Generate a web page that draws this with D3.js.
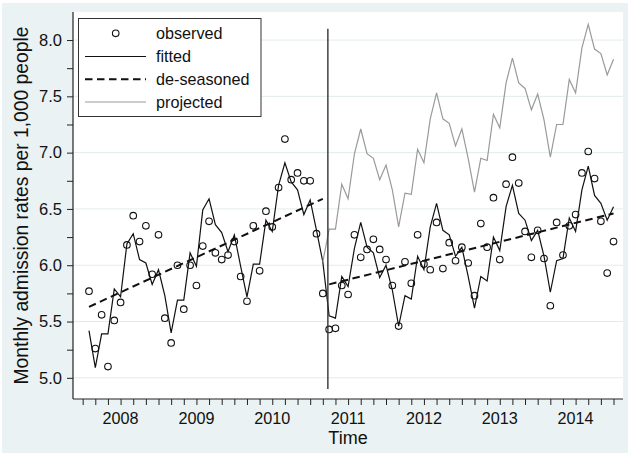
<!DOCTYPE html>
<html><head><meta charset="utf-8">
<script src="https://cdn.jsdelivr.net/npm/d3@7/dist/d3.min.js"></script>
<style>
html,body{margin:0;padding:0;background:#fff;}
svg{display:block;font-family:"Liberation Sans",Arial,sans-serif;}
</style>
</head><body>
<svg id="chart" width="636" height="456"></svg>
<script>
// Monthly series, month index 0 = 2007m8 (Aug 2007) ... 83 = 2014m7
const firstMonth = "2007m8";
const observed = [5.77,5.26,5.56,5.10,5.51,5.67,6.18,6.44,6.21,6.35,5.92,6.27,
  5.53,5.31,6.00,5.61,6.00,5.82,6.17,6.39,6.11,6.05,6.09,6.21,
  5.90,5.68,6.35,5.95,6.48,6.34,6.69,7.12,6.76,6.82,6.75,6.75,
  6.28,5.75,5.43,5.44,5.82,5.74,6.27,6.07,6.14,6.23,6.14,6.05,
  5.82,5.46,6.03,5.84,6.27,6.01,5.96,6.38,5.97,6.20,6.04,6.16,
  6.02,5.73,6.37,6.16,6.60,6.05,6.72,6.96,6.73,6.30,6.07,6.31,
  6.06,5.64,6.38,6.09,6.35,6.45,6.82,7.01,6.77,6.39,5.93,6.21];
const fitted = [5.42,5.09,5.39,5.39,5.79,5.72,6.19,6.28,6.05,6.02,5.83,5.96,
  5.73,5.40,5.69,5.69,6.11,5.99,6.49,6.59,6.36,6.29,6.12,6.27,
  5.99,5.72,6.01,6.01,6.40,6.30,6.71,6.91,6.74,6.67,6.45,6.58,
  6.31,6.03,5.55,5.53,5.90,5.81,6.15,6.38,6.16,6.11,5.89,6.00,
  5.78,5.46,5.73,5.70,6.08,5.96,6.34,6.55,6.31,6.27,6.08,6.16,
  5.90,5.62,5.90,5.86,6.25,6.13,6.52,6.71,6.46,6.40,6.22,6.31,
  6.08,5.76,6.04,6.06,6.42,6.30,6.67,6.88,6.62,6.55,6.40,6.52];
const projectedStart = 37;
const projected = [6.03,6.32,6.32,6.72,6.59,6.99,7.21,6.99,6.95,6.76,6.89,
  6.67,6.34,6.64,6.63,7.03,6.91,7.30,7.53,7.30,7.26,7.06,7.21,
  6.95,6.65,6.95,6.93,7.34,7.22,7.62,7.84,7.62,7.57,7.38,7.52,
  7.29,6.96,7.25,7.25,7.65,7.53,7.93,8.14,7.92,7.88,7.69,7.83];
const deseasonedPreMonths = [0, 37];
const deseasonedPreValues = [5.63, 6.59];
const deseasonedPostMonths = [38, 83];
const deseasonedPostValues = [5.83, 6.46];
const interventionMonth = 37.8;
const interventionRange = [4.90, 8.10];
const yTicks = [5.0,5.5,6.0,6.5,7.0,7.5,8.0];
const yMinorTicks = [5.25,5.75,6.25,6.75,7.25,7.75];
const yearLabels = ["2008","2009","2010","2011","2012","2013","2014"];
const yearLabelMonths = [5,17,29,41,53,65,77];
const xTickMonths = d3.range(-1, 84, 2);
const legendLabels = ["observed","fitted","de-seasoned","projected"];
const yTitle = "Monthly admission rates per 1,000 people";
const xTitle = "Time";

const svg = d3.select("#chart");
const W = 636, H = 456;
const plot = {left:73, right:623, top:12, bottom:399};

svg.append("rect").attr("width",W).attr("height",H).attr("fill","#fff");
svg.append("rect").attr("x",2).attr("y",3).attr("width",626).attr("height",450).attr("fill","#eaf2f3");
svg.append("rect").attr("x",plot.left).attr("y",plot.top)
  .attr("width",plot.right-plot.left).attr("height",plot.bottom-plot.top).attr("fill","#fff");

const x = d3.scaleLinear().domain([-2.53, 84.5]).range([plot.left, plot.right]);
const y = d3.scaleLinear().domain([4.812, 8.249]).range([plot.bottom, plot.top]);

// gridlines
svg.append("g").selectAll("line").data(yTicks).join("line")
  .attr("x1",plot.left).attr("x2",plot.right)
  .attr("y1",d=>y(d)).attr("y2",d=>y(d))
  .attr("stroke","#e2ebec").attr("stroke-width",1);

// y axis
const yAxis = d3.axisLeft(y).tickValues(yTicks).tickFormat(d3.format(".1f")).tickSize(6).tickPadding(5);
const gy = svg.append("g").attr("transform",`translate(${plot.left},0)`).call(yAxis);
gy.select(".domain").remove();
gy.selectAll(".tick line").attr("stroke","#222");
gy.selectAll(".tick text").attr("font-size","16.5px").attr("fill","#111")
  .attr("font-family","'Liberation Sans',Arial,sans-serif");
const gyMinor = svg.append("g").attr("transform",`translate(${plot.left},0)`)
  .call(d3.axisLeft(y).tickValues(yMinorTicks).tickFormat("").tickSize(6));
gyMinor.select(".domain").remove();
gyMinor.selectAll(".tick line").attr("stroke","#222");
svg.append("line").attr("x1",plot.left).attr("x2",plot.left).attr("y1",plot.top).attr("y2",plot.bottom)
  .attr("stroke","#222").attr("stroke-width",1.2);

// x axis
const gx = svg.append("g").attr("transform",`translate(0,${plot.bottom})`)
  .call(d3.axisBottom(x).tickValues(xTickMonths).tickFormat("").tickSize(6));
gx.select(".domain").remove();
gx.selectAll(".tick line").attr("stroke","#222");
svg.append("line").attr("x1",plot.left).attr("x2",plot.right).attr("y1",plot.bottom).attr("y2",plot.bottom)
  .attr("stroke","#222").attr("stroke-width",1.2);
svg.append("g").selectAll("text").data(yearLabels).join("text")
  .attr("x",(d,i)=>x(yearLabelMonths[i])).attr("y",424)
  .attr("text-anchor","middle").attr("font-size","16.2px").attr("fill","#111").text(d=>d);

// titles
svg.append("text").attr("x",348).attr("y",444).attr("text-anchor","middle")
  .attr("font-size","18px").attr("fill","#111").text(xTitle);
svg.append("text").attr("transform",`translate(27.5,${(plot.top+plot.bottom)/2}) rotate(-90)`)
  .attr("text-anchor","middle").attr("font-size","19.3px").attr("fill","#111").text(yTitle);

// series
const line = d3.line().x(d=>x(d[0])).y(d=>y(d[1]));
const obsPts = observed.map((v,i)=>[i,v]);
const fitPts = fitted.map((v,i)=>[i,v]);
const projPts = projected.map((v,i)=>[i+projectedStart,v]);
const desPre = deseasonedPreMonths.map((m,i)=>[m,deseasonedPreValues[i]]);
const desPost = deseasonedPostMonths.map((m,i)=>[m,deseasonedPostValues[i]]);

svg.append("g").selectAll("circle").data(obsPts).join("circle")
  .attr("cx",d=>x(d[0])).attr("cy",d=>y(d[1])).attr("r",3.3)
  .attr("fill","none").attr("stroke","#111").attr("stroke-width",1.1);

svg.append("path").datum(fitPts).attr("d",line).attr("fill","none")
  .attr("stroke","#111").attr("stroke-width",1.2).attr("stroke-linejoin","miter");
[desPre,desPost].forEach(seg=>{
  svg.append("path").datum(seg).attr("d",line).attr("fill","none")
    .attr("stroke","#111").attr("stroke-width",2).attr("stroke-dasharray","7.5,4.5");
});
svg.append("path").datum(projPts).attr("d",line).attr("fill","none")
  .attr("stroke","#9a9a9a").attr("stroke-width",1.2);

svg.append("line").attr("x1",x(interventionMonth)).attr("x2",x(interventionMonth))
  .attr("y1",y(interventionRange[0])).attr("y2",y(interventionRange[1]))
  .attr("stroke","#333").attr("stroke-width",1.4);

// legend
const lg = svg.append("g");
lg.append("rect").attr("x",78.5).attr("y",18.5).attr("width",182.5).attr("height",98)
  .attr("fill","#fff").attr("stroke","#333").attr("stroke-width",1);
const rowY = [33.3,56.5,79.3,102];
legendLabels.forEach((lab,i)=>{
  const cy = rowY[i];
  if(i===0){
    lg.append("circle").attr("cx",115.7).attr("cy",cy).attr("r",3.3)
      .attr("fill","none").attr("stroke","#111").attr("stroke-width",1.1);
  } else {
    const ln = lg.append("line").attr("x1",85).attr("x2",146).attr("y1",cy).attr("y2",cy);
    if(i===1) ln.attr("stroke","#111").attr("stroke-width",1.2);
    if(i===2) ln.attr("stroke","#111").attr("stroke-width",2).attr("stroke-dasharray","7.5,4.5");
    if(i===3) ln.attr("stroke","#9a9a9a").attr("stroke-width",1.2);
  }
  lg.append("text").attr("x",156).attr("y",cy+5.8).attr("font-size","16.2px").attr("fill","#111").text(lab);
});
</script>
</body></html>
